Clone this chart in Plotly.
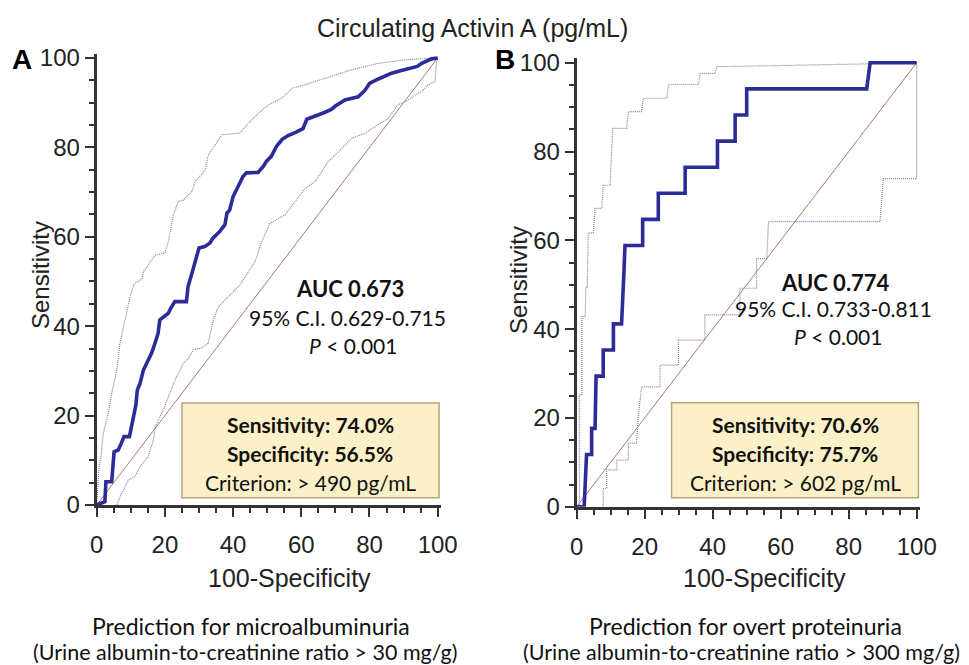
import plotly.graph_objects as go

# ---------------- data ----------------
# Panel A: microalbuminuria
a_roc_x = [0, 1.95, 2.4, 2.7, 4.4, 5.1, 6.3, 7.0, 8.0, 9.6, 10.2, 10.7, 11.5, 11.9, 12.7, 13.7, 14.6,
           16.1, 17.1, 18.0, 18.5, 20.0, 21.0, 21.7, 22.9, 26.3, 26.8, 27.8, 29.3, 30.0, 31.7, 33.2,
           34.1, 36.1, 37.6, 38.2, 39.0, 40.0, 41.5, 42.9, 43.9, 47.3, 48.8, 49.8, 51.2, 52.7, 54.4,
           56.0, 58.5, 60.5, 61.6, 64.0, 66.8, 68.8, 69.9, 72.8, 76.7, 78.7, 80.0, 82.6, 84.5,
           86.5, 88.8, 91.4, 94.0, 95.3, 97.0, 98.2, 100]
a_roc_y = [0, 0.75, 0.75, 5.2, 5.2, 11.9, 12.3, 13.4, 15.3, 15.3, 17.5, 20.1, 22.4, 25.7, 27.2, 30.2, 31.7,
           34.0, 36.2, 38.4, 41.4, 42.2, 42.9, 44.0, 45.5, 45.5, 48.9, 51.5, 55.6, 57.5, 57.8, 58.6,
           59.7, 61.2, 62.7, 65.3, 66.0, 69.0, 71.3, 73.5, 74.3, 74.4, 75.7, 76.9, 78.0, 80.2, 81.8,
           82.6, 83.4, 84.2, 86.3, 86.9, 87.8, 88.5, 89.2, 90.6, 91.3, 92.8, 94.3, 95.3, 96.0,
           96.6, 97.1, 97.7, 98.1, 98.8, 99.3, 99.8, 100]

a_upper_x = [0, 0.2, 0.5, 0.7, 1.3, 1.9, 3.4, 4.4, 5.9, 6.8, 8.3, 9.8, 11.0, 13.2, 13.7, 15.1, 17.1, 20.0,
             21.0, 22.5, 23.9, 25.4, 27.9, 28.8, 31.8, 32.7, 35.7, 36.7, 42.0, 44.5, 47.4, 48.9, 50.3,
             54.3, 57.2, 61.1, 67.0, 72.8, 76.7, 82.6, 90.4, 98.2, 100]
a_upper_y = [0, 3.0, 6.5, 8.5, 11.0, 16.0, 20.5, 25.0, 30.2, 36.2, 41.4, 46.6, 49.5, 50.5, 52.2, 53.7, 55.9, 56.3,
             58.9, 64.9, 67.9, 68.2, 70.1, 72.3, 74.9, 78.3, 81.7, 82.8, 83.2, 85.4, 87.6, 88.7, 89.5,
             91.0, 93.2, 94.0, 95.5, 96.9, 97.7, 98.8, 99.6, 99.9, 100]

a_lower_x = [5.9, 7.3, 9.3, 11.2, 12.7, 15.1, 16.6, 17.1, 19.1, 21.0, 23.0, 25.4, 26.9, 28.3, 30.8, 32.7,
             34.2, 35.7, 38.6, 41.5, 42.0, 44.5, 46.4, 48.4, 50.8, 55.2, 58.2, 61.1, 64.0, 67.9, 70.9,
             74.8, 78.7, 82.6, 85.5, 88.4, 91.4, 93.3, 95.3, 97.2, 99.2, 99.7, 100]
a_lower_y = [0, 2.6, 5.6, 6.3, 8.6, 10.8, 14.5, 17.5, 20.5, 24.2, 28.0, 31.7, 32.8, 34.7, 35.1, 36.2,
             41.4, 44.4, 46.6, 48.8, 49.2, 52.2, 54.4, 58.9, 63.0, 64.9, 67.9, 70.8, 72.3, 76.8, 79.0,
             82.0, 83.2, 85.0, 86.5, 89.5, 90.6, 91.7, 92.5, 94.0, 94.7, 99.2, 100]

# Panel B: overt proteinuria
b_roc_x = [0, 2.2, 2.9, 4.4, 4.4, 5.4, 5.7, 7.8, 7.8, 10.8, 10.8, 13.2, 13.9, 14.2, 19.4, 19.4,
           24.0, 24.0, 31.9, 31.9, 41.4, 41.4, 46.6, 46.6, 50.0, 50.0, 85.3, 86.3, 100]
b_roc_y = [0, 0, 11.76, 11.76, 17.65, 17.65, 29.41, 29.41, 35.29, 35.29, 41.18, 41.18, 52.94, 58.82,
           58.82, 64.71, 64.71, 70.59, 70.59, 76.47, 76.47, 82.35, 82.35, 88.24, 88.24, 94.12, 94.12,
           100, 100]

b_upper_x = [0.8, 0.8, 1.5, 1.5, 2.5, 2.7, 3.1, 3.4, 4.9, 5.4, 7.4, 7.8, 9.8, 10.3, 10.6, 14.7, 15.2,
             19.1, 19.6, 26.5, 27.0, 35.8, 36.3, 40.7, 41.2, 82.4, 100]
b_upper_y = [0, 25.2, 25.2, 42.8, 42.8, 49.5, 49.5, 61.7, 61.7, 67.2, 67.2, 72.4, 72.4, 81.5, 85.2, 85.2, 89.0,
             89.0, 92.0, 92.0, 95.1, 95.1, 97.6, 97.6, 99.1, 99.7, 100]

b_lower_x = [7.8, 7.8, 8.8, 8.8, 11.8, 11.8, 15.2, 15.2, 17.6, 18.1, 19.1, 24.5, 24.5, 29.9, 29.9,
             37.7, 37.7, 48.0, 48.0, 52.9, 52.9, 55.9, 56.4, 89.2, 90.2, 100, 100]
b_lower_y = [0, 4.1, 4.1, 8.3, 8.3, 10.5, 10.5, 14.3, 14.3, 20.3, 27.0, 27.0, 31.9, 31.9, 37.5,
             37.5, 43.2, 43.2, 49.2, 49.2, 55.9, 55.9, 64.2, 64.2, 73.9, 73.9, 100]

diag = [0, 100]

tick_vals = [0, 20, 40, 60, 80, 100]
tick_text = ["0", "20", "40", "60", "80", "100"]

title_text = "Circulating Activin A (pg/mL)"
panel_letters = ["A", "B"]
auc_texts = ["AUC 0.673", "AUC 0.774"]
ci_texts = ["95% C.I. 0.629-0.715", "95% C.I. 0.733-0.811"]
p_text = "<i>P</i> < 0.001"
sens_texts = ["Sensitivity: 74.0%", "Sensitivity: 70.6%"]
spec_texts = ["Specificity: 56.5%", "Specificity: 75.7%"]
crit_texts = ["Criterion: > 490 pg/mL", "Criterion: > 602 pg/mL"]
pred_texts = ["Prediction for microalbuminuria", "Prediction for overt proteinuria"]
ratio_texts = ["(Urine albumin-to-creatinine ratio > 30 mg/g)",
               "(Urine albumin-to-creatinine ratio > 300 mg/g)"]

# ---------------- styling ----------------
W, H = 969, 665
OFF = 8  # page offset of the figure in the browser
MAIN = "#2c2c98"
CI = "#8080b4"
DIAG = "#b07474"
AXIS = "#333333"
ARIAL = "Liberation Sans, Arial, sans-serif"
CAL = "Lato, Noto Sans, sans-serif"


def px(x):
    return (x - OFF) / W


def py(y):
    return 1 - (y - OFF) / H


fig = go.Figure()

panels = [
    dict(x=a_roc_x, y=a_roc_y, ux=a_upper_x, uy=a_upper_y, lx=a_lower_x, ly=a_lower_y, xa="x", ya="y"),
    dict(x=b_roc_x, y=b_roc_y, ux=b_upper_x, uy=b_upper_y, lx=b_lower_x, ly=b_lower_y, xa="x2", ya="y2"),
]
for p in panels:
    fig.add_trace(go.Scatter(x=diag, y=diag, mode="lines", line=dict(color=DIAG, width=1),
                             xaxis=p["xa"], yaxis=p["ya"], showlegend=False, hoverinfo="skip"))
    fig.add_trace(go.Scatter(x=p["ux"], y=p["uy"], mode="lines", line=dict(color=CI, width=1.2, dash="1px,1px"),
                             xaxis=p["xa"], yaxis=p["ya"], showlegend=False))
    fig.add_trace(go.Scatter(x=p["lx"], y=p["ly"], mode="lines", line=dict(color=CI, width=1.2, dash="1px,1px"),
                             xaxis=p["xa"], yaxis=p["ya"], showlegend=False))
    fig.add_trace(go.Scatter(x=p["x"], y=p["y"], mode="lines", line=dict(color=MAIN, width=3.6),
                             xaxis=p["xa"], yaxis=p["ya"], showlegend=False))

ax_common = dict(range=[0, 101], showline=True, linecolor=AXIS, linewidth=3, showgrid=False, zeroline=False,
                 ticks="outside", ticklen=9, tickwidth=2, tickcolor=AXIS,
                 tickvals=tick_vals, ticktext=tick_text, automargin=False,
                 tickfont=dict(family=ARIAL, size=24, color="#222"),
                 minor=dict(dtick=5, tick0=0, ticks="outside", ticklen=5, tickwidth=2, tickcolor=AXIS),
                 fixedrange=True)
x_extra = dict(ticklabelstandoff=7)
y_extra = dict()

fig.update_layout(
    width=W, height=H, margin=dict(l=0, r=0, t=0, b=0, pad=0, autoexpand=False),
    paper_bgcolor="white", plot_bgcolor="white", showlegend=False,
    xaxis=dict(domain=[(96.7 - OFF) / W, (441.1 - OFF) / W], anchor="y", **ax_common, **x_extra),
    yaxis=dict(domain=[(H - 505 + OFF) / H, (H - 53.5 + OFF) / H], anchor="x", **ax_common, **y_extra),
    xaxis2=dict(domain=[(576.7 - OFF) / W, (920.1 - OFF) / W], anchor="y2", **ax_common, **x_extra),
    yaxis2=dict(domain=[(H - 506.7 + OFF) / H, (H - 58.3 + OFF) / H], anchor="x2", **ax_common, **y_extra),
)

# boxes
box_coords = [(25.0, 100.4, 1.6, 22.8, "x", "y"), (27.9, 100.5, 2.0, 23.4, "x2", "y2")]
for x0, x1, y0, y1, xr, yr in box_coords:
    fig.add_shape(type="rect", x0=x0, x1=x1, y0=y0, y1=y1, xref=xr, yref=yr,
                  fillcolor="#fcf0c8", line=dict(color="#b8a574", width=1.5), layer="above")

ann = []


def A(text, x, y, size, family=CAL, color="#111", xanchor="center"):
    ann.append(dict(text=text, x=px(x), y=py(y), xref="paper", yref="paper", showarrow=False,
                    xanchor=xanchor, yanchor="middle", font=dict(family=family, size=size, color=color)))


A(title_text, 472, 28, 25, family=ARIAL, color="#222")
A("<b>" + panel_letters[0] + "</b>", 22, 60, 28, family=ARIAL, color="#000")
A("<b>" + panel_letters[1] + "</b>", 505, 60, 28, family=ARIAL, color="#000")

# y titles
for xx, yy in [(40, 275), (518, 280)]:
    ann.append(dict(text="Sensitivity", x=px(xx), y=py(yy), xref="paper", yref="paper", showarrow=False,
                    textangle=-90, xanchor="center", yanchor="middle",
                    font=dict(family=ARIAL, size=24, color="#222")))

# x titles
A("100-Specificity", 289, 578, 25, family=ARIAL, color="#222")
A("100-Specificity", 764, 578, 25, family=ARIAL, color="#222")

# stats
stat_pos = [(350, 347), (835, 833)]
stat_y = [(288, 317, 345), (282, 308, 336)]
for i in range(2):
    ax_, cx = stat_pos[i]
    y1, y2, y3 = stat_y[i]
    A("<b>" + auc_texts[i] + "</b>", ax_, y1, 22)
    A(ci_texts[i], cx, y2, 21)
    A(p_text, ax_ + 3, y3, 21)

box_cx = [310, 795]
for i in range(2):
    A("<b>" + sens_texts[i] + "</b>", box_cx[i], 424, 21)
    A("<b>" + spec_texts[i] + "</b>", box_cx[i], 453, 21)
    A(crit_texts[i], box_cx[i], 482, 21)

A(pred_texts[0], 251, 626, 23)
A(ratio_texts[0], 245, 652, 21.5)
A(pred_texts[1], 745, 626, 23)
A(ratio_texts[1], 741, 652, 21.5)

fig.update_layout(annotations=ann)
fig.write_html("out.html")
